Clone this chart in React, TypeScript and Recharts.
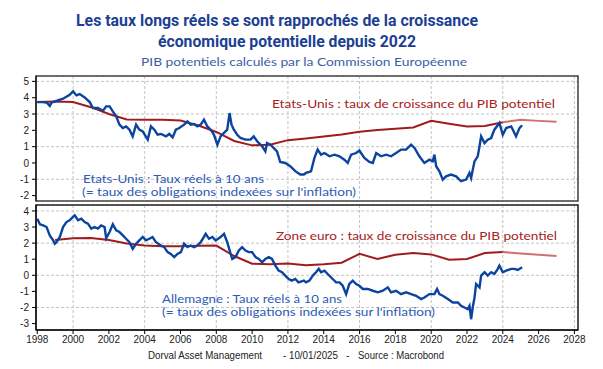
import React from 'react';
import { LineChart, Line, XAxis, YAxis, CartesianGrid, ReferenceArea } from 'recharts';

// ---------- axis ticks ----------
const xTicks = [1998, 2000, 2002, 2004, 2006, 2008, 2010, 2012, 2014, 2016, 2018, 2020, 2022, 2024, 2026, 2028];
const usTicks = [-2, -1, 0, 1, 2, 3, 4, 5];
const euTicks = [-3, -2, -1, 0, 1, 2, 3, 4];
const xDomain = [1997.93, 2028.2];
const usDomain = [-2.33, 5.33];
const euDomain = [-3.4, 4.37];

// ---------- US 10y real yield ----------
const usRealYears = [
  1998.0, 1998.33, 1998.55, 1998.7, 1998.8, 1999.07, 1999.44, 1999.81, 2000.0, 2000.19, 2000.37, 2000.65, 2000.93,
  2001.11, 2001.39, 2001.67, 2001.85, 2002.04, 2002.22, 2002.41, 2002.59, 2002.78, 2002.96, 2003.15, 2003.33,
  2003.52, 2003.7, 2003.89, 2004.17, 2004.35, 2004.54, 2004.72, 2004.91, 2005.19, 2005.37, 2005.56, 2005.74,
  2005.93, 2006.2, 2006.39, 2006.57, 2006.76, 2006.94, 2007.13, 2007.31, 2007.5, 2007.69, 2007.87, 2008.06,
  2008.24, 2008.43, 2008.61, 2008.74, 2008.85, 2008.98, 2009.17, 2009.35, 2009.63, 2009.91, 2010.09, 2010.28,
  2010.56, 2010.74, 2010.83, 2011.02, 2011.2, 2011.39, 2011.57, 2011.85, 2012.13, 2012.41, 2012.69, 2012.89,
  2013.01, 2013.29, 2013.48, 2013.66, 2013.85, 2014.04, 2014.32, 2014.6, 2014.88, 2015.15, 2015.34, 2015.53,
  2015.81, 2015.99, 2016.27, 2016.55, 2016.74, 2016.93, 2017.2, 2017.48, 2017.76, 2018.04, 2018.32, 2018.6,
  2018.88, 2019.07, 2019.34, 2019.62, 2019.9, 2020.09, 2020.18, 2020.28, 2020.46, 2020.65, 2020.83, 2021.11,
  2021.39, 2021.67, 2021.95, 2022.14, 2022.23, 2022.42, 2022.6, 2022.7, 2022.79, 2022.98, 2023.16, 2023.35,
  2023.53, 2023.81, 2024.0, 2024.19, 2024.47, 2024.65, 2024.74, 2024.93, 2025.08,
];
const usRealValues = [
  3.73, 3.73, 3.68, 3.5, 3.7, 3.8, 3.94, 4.18, 4.39, 4.14, 4.22, 4.02, 3.73,
  3.37, 3.37, 3.2, 3.47, 3.47, 3.16, 2.86, 2.35, 2.14, 2.24, 2.04, 1.63,
  2.35, 2.04, 1.94, 1.43, 2.24, 2.04, 1.73, 1.78, 1.63, 1.78, 1.57, 2.04,
  2.14, 2.35, 2.55, 2.35, 2.39, 2.24, 2.35, 2.65, 2.24, 2.04, 1.73, 1.12,
  1.63, 1.84, 2.04, 3.06, 2.35, 2.04, 1.73, 1.53, 1.43, 1.43, 1.63, 1.33,
  1.02, 0.71, 1.22, 1.12, 0.92, 0.71, 0.06, 0.0, -0.2, -0.5, -0.71, -0.71,
  -0.61, -0.51, 0.31, 0.82, 0.51, 0.61, 0.41, 0.51, 0.41, 0.2, 0.0, 0.51,
  0.61, 0.76, 0.31, 0.06, 0.0, 0.61, 0.41, 0.51, 0.41, 0.61, 0.82, 0.82,
  1.12, 0.92, 0.41, 0.0, 0.2, 0.1, 0.51, -0.2, -0.51, -1.02, -0.82, -0.71,
  -0.82, -1.12, -1.02, -0.61, -0.92, 0.1, 0.41, 1.02, 1.63, 1.22, 1.43, 1.53,
  2.04, 2.45, 1.73, 2.14, 2.24, 1.84, 1.63, 2.14, 2.31,
];

// ---------- US potential growth ----------
const usPotYears = [1998, 1999, 2000, 2001, 2002, 2003, 2004, 2005, 2006, 2007, 2008, 2009, 2010, 2011, 2012, 2013, 2014, 2015, 2016, 2017, 2018, 2019, 2020, 2021, 2022, 2023, 2024];
const usPotValues = [3.73, 3.77, 3.74, 3.42, 3.0, 2.66, 2.65, 2.65, 2.6, 2.3, 1.9, 1.35, 1.08, 1.12, 1.4, 1.5, 1.62, 1.75, 1.92, 2.02, 2.1, 2.18, 2.58, 2.4, 2.24, 2.26, 2.5];
const usPotFcYears = [2024, 2025, 2026, 2027];
const usPotFcValues = [2.5, 2.65, 2.58, 2.52];

// ---------- Germany 10y real yield ----------
const deRealYears = [
  1998.0, 1998.15, 1998.33, 1998.52, 1998.7, 1998.89, 1998.98, 1999.07, 1999.26, 1999.44, 1999.63, 1999.81,
  2000.0, 2000.09, 2000.28, 2000.46, 2000.65, 2000.83, 2001.02, 2001.2, 2001.39, 2001.57, 2001.76, 2001.85,
  2002.04, 2002.22, 2002.41, 2002.59, 2002.78, 2002.96, 2003.15, 2003.33, 2003.52, 2003.7, 2003.89, 2004.07,
  2004.26, 2004.44, 2004.63, 2004.91, 2005.09, 2005.28, 2005.46, 2005.65, 2005.83, 2006.02, 2006.2, 2006.39,
  2006.57, 2006.76, 2006.94, 2007.13, 2007.41, 2007.59, 2007.78, 2007.96, 2008.24, 2008.43, 2008.61, 2008.8,
  2008.89, 2009.07, 2009.26, 2009.44, 2009.63, 2009.81, 2010.0, 2010.19, 2010.37, 2010.56, 2010.74, 2010.93,
  2011.11, 2011.3, 2011.48, 2011.67, 2011.85, 2012.04, 2012.22, 2012.41, 2012.59, 2012.89,
  2013.01, 2013.2, 2013.39, 2013.57, 2013.72, 2013.85, 2014.04, 2014.22, 2014.5, 2014.69, 2014.88, 2015.06,
  2015.25, 2015.43, 2015.62, 2015.81, 2015.99, 2016.18, 2016.46, 2016.74, 2017.02, 2017.3, 2017.58, 2017.76,
  2018.04, 2018.32, 2018.6, 2018.88, 2019.16, 2019.44, 2019.62, 2019.9, 2020.18, 2020.33, 2020.46, 2020.65,
  2020.93, 2021.21, 2021.49, 2021.67, 2021.86, 2022.04, 2022.14, 2022.23, 2022.32, 2022.42, 2022.51, 2022.7,
  2022.79, 2022.98, 2023.16, 2023.35, 2023.53, 2023.72, 2023.81, 2024.0, 2024.19, 2024.47, 2024.65, 2024.84, 2025.08,
];
const deRealValues = [
  3.52, 3.17, 3.1, 3.0, 2.48, 2.17, 1.96, 2.06, 2.38, 3.0, 3.31, 3.42,
  3.63, 3.73, 3.42, 3.52, 3.31, 3.21, 2.9, 3.0, 2.9, 3.1, 3.0, 2.3,
  2.69, 3.17, 2.79, 2.69, 2.48, 2.27, 2.06, 1.65, 1.96, 2.17, 2.38, 2.17,
  2.27, 2.38, 2.06, 1.85, 1.75, 1.44, 1.33, 1.13, 1.33, 1.44, 1.96, 1.75,
  1.85, 1.75, 1.85, 2.06, 2.58, 2.27, 2.38, 2.17, 2.38, 2.58, 2.06, 1.33,
  1.02, 1.13, 1.54, 1.75, 1.54, 1.44, 1.44, 1.13, 1.02, 0.81, 1.02, 1.13,
  1.02, 0.6, 0.29, 0.19, -0.02, -0.23, -0.33, -0.23, -0.44, -0.33,
  -0.44, -0.33, -0.02, 0.19, 0.4, 0.19, 0.29, 0.08, -0.23, -0.44, -0.44, -0.65,
  -1.17, -0.54, -0.33, -0.54, -0.65, -0.85, -0.85, -0.96, -1.06, -0.96, -0.75, -1.06,
  -0.96, -1.17, -1.06, -1.17, -1.27, -1.48, -1.38, -1.17, -1.17, -0.85, -1.17, -1.27,
  -1.48, -1.69, -1.69, -1.9, -2.0, -2.1, -1.9, -2.73, -2.0, -1.38, -0.54, -0.75,
  -0.02, 0.19, -0.02, 0.19, 0.08, 0.4, 0.6, 0.19, 0.29, 0.4, 0.4, 0.33, 0.5,
];

// ---------- Euro area potential growth ----------
const euPotYears = [1999, 2000, 2001, 2002, 2003, 2004, 2005, 2006, 2007, 2008, 2009, 2010, 2011, 2012, 2013, 2014, 2015, 2016, 2017, 2018, 2019, 2020, 2021, 2022, 2023, 2024];
const euPotValues = [2.2, 2.3, 2.32, 2.2, 1.98, 1.86, 1.8, 1.8, 1.83, 1.85, 1.2, 0.72, 0.68, 0.74, 0.62, 0.68, 0.78, 1.33, 1.02, 1.28, 1.38, 1.3, 0.97, 1.02, 1.38, 1.45];
const euPotFcYears = [2024, 2025, 2026, 2027];
const euPotFcValues = [1.45, 1.35, 1.27, 1.2];

const toData = (xs: number[], ys: number[]) => xs.map((x, i) => ({ x, y: ys[i] }));

const BLUE = '#0b449e';
const RED = '#a01c1c';
const RED_LIGHT = '#d27070';
const GRID = '#c4c4c4';
const AXIS_TICK = { fontSize: 10, fill: '#222', fontFamily: 'Liberation Sans, Arial, sans-serif' };

export default function App() {
  const usReal = toData(usRealYears, usRealValues);
  const usPot = toData(usPotYears, usPotValues);
  const usPotFc = toData(usPotFcYears, usPotFcValues);
  const deReal = toData(deRealYears, deRealValues);
  const euPot = toData(euPotYears, euPotValues);
  const euPotFc = toData(euPotFcYears, euPotFcValues);

  return (
    <div style={{ position: 'absolute', left: 0, top: 0, width: 603, height: 369, background: '#fff', overflow: 'hidden' }}>
      <div style={{ position: 'absolute', left: 0, top: 0 }}>
        <LineChart width={603} height={210} margin={{ top: 76, right: 25, left: 6, bottom: 9 }}>
          <CartesianGrid stroke={GRID} strokeDasharray="3 2" />
          <XAxis type="number" dataKey="x" domain={xDomain} ticks={xTicks} allowDataOverflow hide />
          <YAxis type="number" domain={usDomain} ticks={usTicks} allowDataOverflow width={30}
            tick={AXIS_TICK} tickSize={4} tickMargin={3} stroke="#000" />
          <Line data={usPot} dataKey="y" stroke={RED} strokeWidth={2} dot={false} isAnimationActive={false} />
          <Line data={usPotFc} dataKey="y" stroke={RED_LIGHT} strokeWidth={2} dot={false} isAnimationActive={false} />
          <Line data={usReal} dataKey="y" stroke={BLUE} strokeWidth={2.4} dot={false} isAnimationActive={false} />
          <ReferenceArea x1={xDomain[0]} x2={xDomain[1]} y1={usDomain[0]} y2={usDomain[1]} fill="none" stroke="#444" strokeWidth={1.5} />
        </LineChart>
      </div>
      <div style={{ position: 'absolute', left: 0, top: 0 }}>
        <LineChart width={603} height={369} margin={{ top: 205, right: 25, left: 6, bottom: 9 }}>
          <CartesianGrid stroke={GRID} strokeDasharray="3 2" />
          <XAxis type="number" dataKey="x" domain={xDomain} ticks={xTicks} allowDataOverflow height={30}
            tick={AXIS_TICK} tickSize={4} tickMargin={2} stroke="#000" />
          <YAxis type="number" domain={euDomain} ticks={euTicks} allowDataOverflow width={30}
            tick={AXIS_TICK} tickSize={4} tickMargin={3} stroke="#000" />
          <Line data={euPot} dataKey="y" stroke={RED} strokeWidth={2} dot={false} isAnimationActive={false} />
          <Line data={euPotFc} dataKey="y" stroke={RED_LIGHT} strokeWidth={2} dot={false} isAnimationActive={false} />
          <Line data={deReal} dataKey="y" stroke={BLUE} strokeWidth={2.4} dot={false} isAnimationActive={false} />
          <ReferenceArea x1={xDomain[0]} x2={xDomain[1]} y1={euDomain[0]} y2={euDomain[1]} fill="none" stroke="#222" strokeWidth={1.5} />
        </LineChart>
      </div>
      <svg width={603} height={369} style={{ position: 'absolute', left: 0, top: 0, pointerEvents: 'none' }}>
        <g fontFamily="'Liberation Sans Narrow', Roboto, Arial, sans-serif" fontWeight="bold" fontSize={17} fill="#1c3f94">
          <text x={76} y={26} textLength={402} lengthAdjust="spacingAndGlyphs">Les taux longs réels se sont rapprochés de la croissance</text>
          <text x={158} y={47} textLength={258} lengthAdjust="spacingAndGlyphs">économique potentielle depuis 2022</text>
        </g>
        <g fontFamily="Lato, 'Noto Sans', sans-serif" fontSize={12}>
          <text x={141} y={66} fill="#3d5ea6" textLength={326} lengthAdjust="spacingAndGlyphs">PIB potentiels calculés par la Commission Européenne</text>
          <text x={272} y={108} fill="#a52222" textLength={283} lengthAdjust="spacingAndGlyphs">Etats-Unis : taux de croissance du PIB potentiel</text>
          <text x={276} y={240} fill="#a52222" textLength={281} lengthAdjust="spacingAndGlyphs">Zone euro : taux de croissance du PIB potentiel</text>
        </g>
        <g fontFamily="Lato, 'Noto Sans', sans-serif" fontSize={11} fill="#2d5bb5">
          <text x={83} y={183} textLength={181} lengthAdjust="spacingAndGlyphs">Etats-Unis : Taux réels à 10 ans</text>
          <text x={82} y={196} textLength={274} lengthAdjust="spacingAndGlyphs">(= taux des obligations indexées sur l'inflation)</text>
          <text x={162} y={303} textLength={180} lengthAdjust="spacingAndGlyphs">Allemagne : Taux réels à 10 ans</text>
          <text x={162} y={316} textLength={273} lengthAdjust="spacingAndGlyphs">(= taux des obligations indexées sur l'inflation)</text>
        </g>
        <g fontFamily="'Liberation Sans', Arial, sans-serif" fontSize={10} fill="#222">
          <text x={148} y={359} textLength={114} lengthAdjust="spacingAndGlyphs">Dorval Asset Management</text>
          <text x={283} y={359} textLength={55} lengthAdjust="spacingAndGlyphs">- 10/01/2025</text>
          <text x={346} y={359}>-</text>
          <text x={358} y={359} textLength={86} lengthAdjust="spacingAndGlyphs">Source : Macrobond</text>
        </g>
      </svg>
    </div>
  );
}
